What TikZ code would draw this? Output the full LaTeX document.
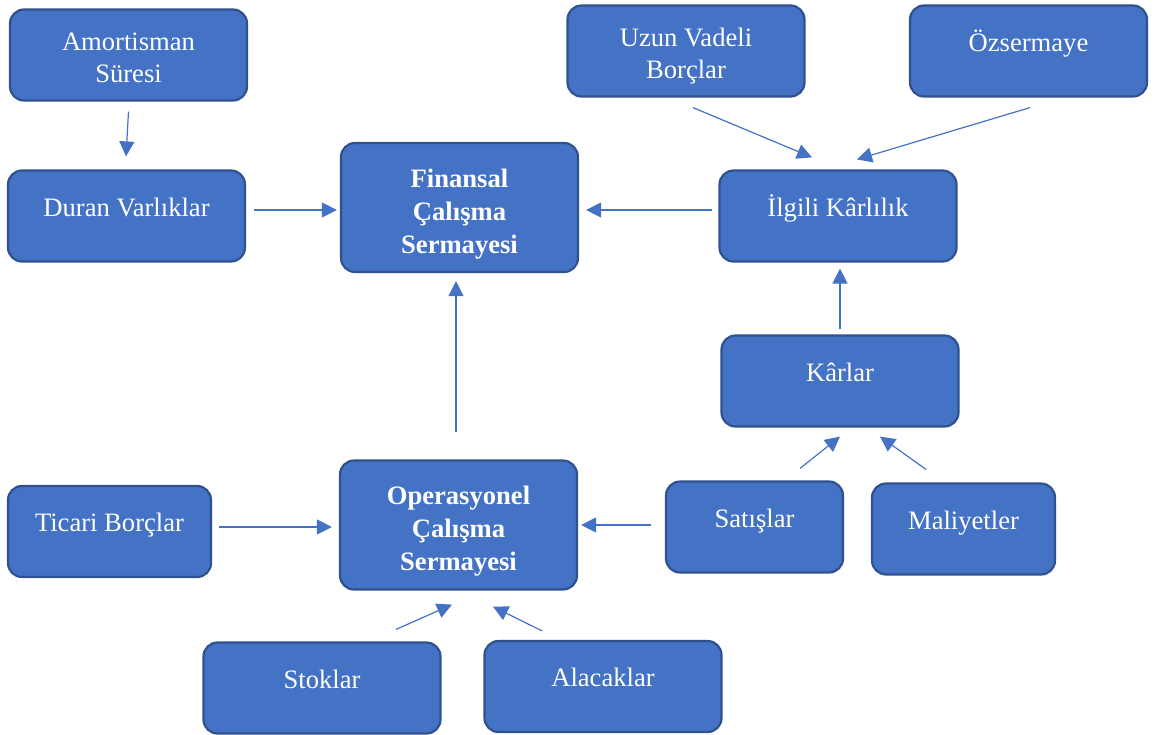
\documentclass[tikz,border=0pt]{standalone}
\usepackage{fontspec}
\setmainfont{Liberation Serif}
\usetikzlibrary{arrows.meta}
\definecolor{kutumavi}{HTML}{4472C4}
\definecolor{kenarmavi}{HTML}{2F528F}
\tikzset{
  kutu/.style={draw=kenarmavi, line width=1.1pt, fill=kutumavi, rounded corners=7pt,
    text=white, align=center, font=\fontsize{13.3}{16}\selectfont,
    minimum width=118.5pt, minimum height=45.5pt, inner sep=2pt},
  tek/.style={text height=9pt, text depth=9pt},
  iki/.style={text height=27pt, text depth=-2pt},
  buyuk/.style={minimum height=64.5pt, font=\fontsize{13.3}{16.5}\selectfont\bfseries,
    text height=45.5pt, text depth=0pt},
  ok/.style={draw=kutumavi, line width=0.6pt, -{Triangle[length=7.5pt,width=7.5pt]}}
}
\begin{document}
\begin{tikzpicture}[x=0.5pt, y=-0.5pt]
  \useasboundingbox (0,0) rectangle (1155,734);
  % Kutular
  \node[kutu, iki] (amort) at (128.5,55) {Amortisman\\Süresi};
  \node[kutu, tek] (duran) at (126.5,216) {Duran Varlıklar};
  \node[kutu, buyuk] (finansal) at (459.5,207.5) {Finansal\\Çalışma\\Sermayesi};
  \node[kutu, iki] (uzun) at (686,51) {Uzun Vadeli\\Borçlar};
  \node[kutu, tek] (ozser) at (1028.5,51) {Özsermaye};
  \node[kutu, tek] (ilgili) at (838,216) {İlgili Kârlılık};
  \node[kutu, tek] (karlar) at (840,381) {Kârlar};
  \node[kutu, tek, minimum width=88.5pt] (satis) at (754.5,527) {Satışlar};
  \node[kutu, tek, minimum width=91.5pt] (maliyet) at (963.5,529) {Maliyetler};
  \node[kutu, tek, minimum width=101.5pt] (ticari) at (109.5,531.5) {Ticari Borçlar};
  \node[kutu, buyuk] (operasyonel) at (458.5,525) {Operasyonel\\Çalışma\\Sermayesi};
  \node[kutu, tek] (stok) at (322,688) {Stoklar};
  \node[kutu, tek] (alacak) at (603,686.5) {Alacaklar};
  % Oklar
  \draw[ok] ([shift={(0,10)}]amort.south) -- ([shift={(-0.5,-13)}]duran.north);
  \draw[ok] ([shift={(8,-6)}]duran.east) -- ([shift={(-3,2.5)}]finansal.west);
  \draw[ok] ([shift={(-6,-6)}]ilgili.west) -- ([shift={(7,2.5)}]finansal.east);
  \draw[ok] ([shift={(7,10)}]uzun.south) -- ([shift={(-26,-12)}]ilgili.north);
  \draw[ok] ([shift={(1.5,10)}]ozser.south) -- ([shift={(19,-10)}]ilgili.north);
  \draw[ok] ([shift={(0,-5)}]karlar.north) -- ([shift={(2,6)}]ilgili.south);
  \draw[ok] ([shift={(-2.5,-27)}]operasyonel.north) -- ([shift={(-3.5,8)}]finansal.south);
  \draw[ok] ([shift={(7,-4.5)}]ticari.east) -- ([shift={(-7,2)}]operasyonel.west);
  \draw[ok] ([shift={(-14,-2)}]satis.west) -- ([shift={(3,0)}]operasyonel.east);
  \draw[ok] ([shift={(45.5,-12)}]satis.north) -- ([shift={(0,9)}]karlar.south);
  \draw[ok] ([shift={(-37.5,-13)}]maliyet.north) -- ([shift={(40,9)}]karlar.south);
  \draw[ok] ([shift={(74,-12)}]stok.north) -- ([shift={(-6.5,14)}]operasyonel.south);
  \draw[ok] ([shift={(-61,-9)}]alacak.north) -- ([shift={(34.5,16)}]operasyonel.south);
\end{tikzpicture}
\end{document}
